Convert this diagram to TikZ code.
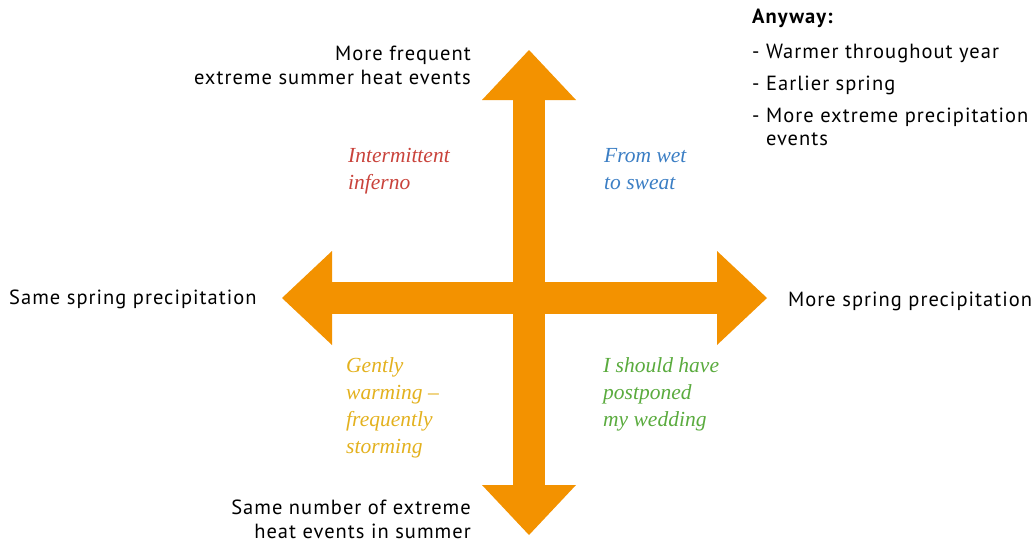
\documentclass[tikz,border=0pt]{standalone}
\usepackage{fontspec}
\setmainfont{PT Sans}[LetterSpace=5]
\newfontfamily\scenariofont{Liberation Serif}
\usetikzlibrary{arrows.meta}
\definecolor{axisorange}{HTML}{F39200}
\definecolor{infernored}{HTML}{C9433B}
\definecolor{sweatblue}{HTML}{3B7EC4}
\definecolor{stormyellow}{HTML}{E3B11E}
\definecolor{weddinggreen}{HTML}{5AAB3E}
\tikzset{
  axis/.style={draw=axisorange, line width=32pt,
    -{Triangle[length=50pt,width=94pt,line width=0pt]}},
  axislabel/.style={font=\fontsize{20.5}{24}\selectfont, inner sep=0pt},
  scenario/.style={font=\fontsize{21.5}{27}\selectfont\scenariofont\itshape,
    align=left, inner sep=0pt, anchor=north west},
}
\begin{document}
\begin{tikzpicture}[x=1pt,y=-1pt]
\useasboundingbox (0,0) rectangle (1032,544);
\coordinate (c) at (529,298);
\coordinate (up) at (529,50);
\coordinate (down) at (529,535);
\coordinate (left) at (282,298);
\coordinate (right) at (767,298);
\draw[axis] (c) -- (up);
\draw[axis] (c) -- (down);
\draw[axis] (c) -- (left);
\draw[axis] (c) -- (right);

\node[axislabel, align=right, anchor=north east] (toplabel) at (471,46)
  {More frequent\\extreme summer heat events};
\node[axislabel, align=right, anchor=north east, text depth=0pt] (bottomlabel) at (471,500)
  {Same number of extreme\\heat events in summer};
\node[axislabel, anchor=west] (leftlabel) at (9,299) {Same spring precipitation};
\node[axislabel, anchor=west] (rightlabel) at (788,301) {More spring precipitation};

\node[scenario, text=infernored] (q1) at (348,148) {Intermittent\\inferno};
\node[scenario, text=sweatblue] (q2) at (604,148) {From wet\\to sweat};
\node[scenario, text=stormyellow] (q3) at (346,357)
  {Gently\\warming –\\frequently\\storming};
\node[scenario, text=weddinggreen] (q4) at (603,357)
  {I should have\\postponed\\my wedding};

\node[axislabel, anchor=north west, align=left] (anyway) at (752,9)
  {\bfseries Anyway:};
\node[axislabel, anchor=north west, align=left] (items) at (752,44)
  {- Warmer throughout year\\[8pt]- Earlier spring\\[8pt]- More extreme precipitation\\[-1pt]\phantom{- }events};
\end{tikzpicture}
\end{document}
